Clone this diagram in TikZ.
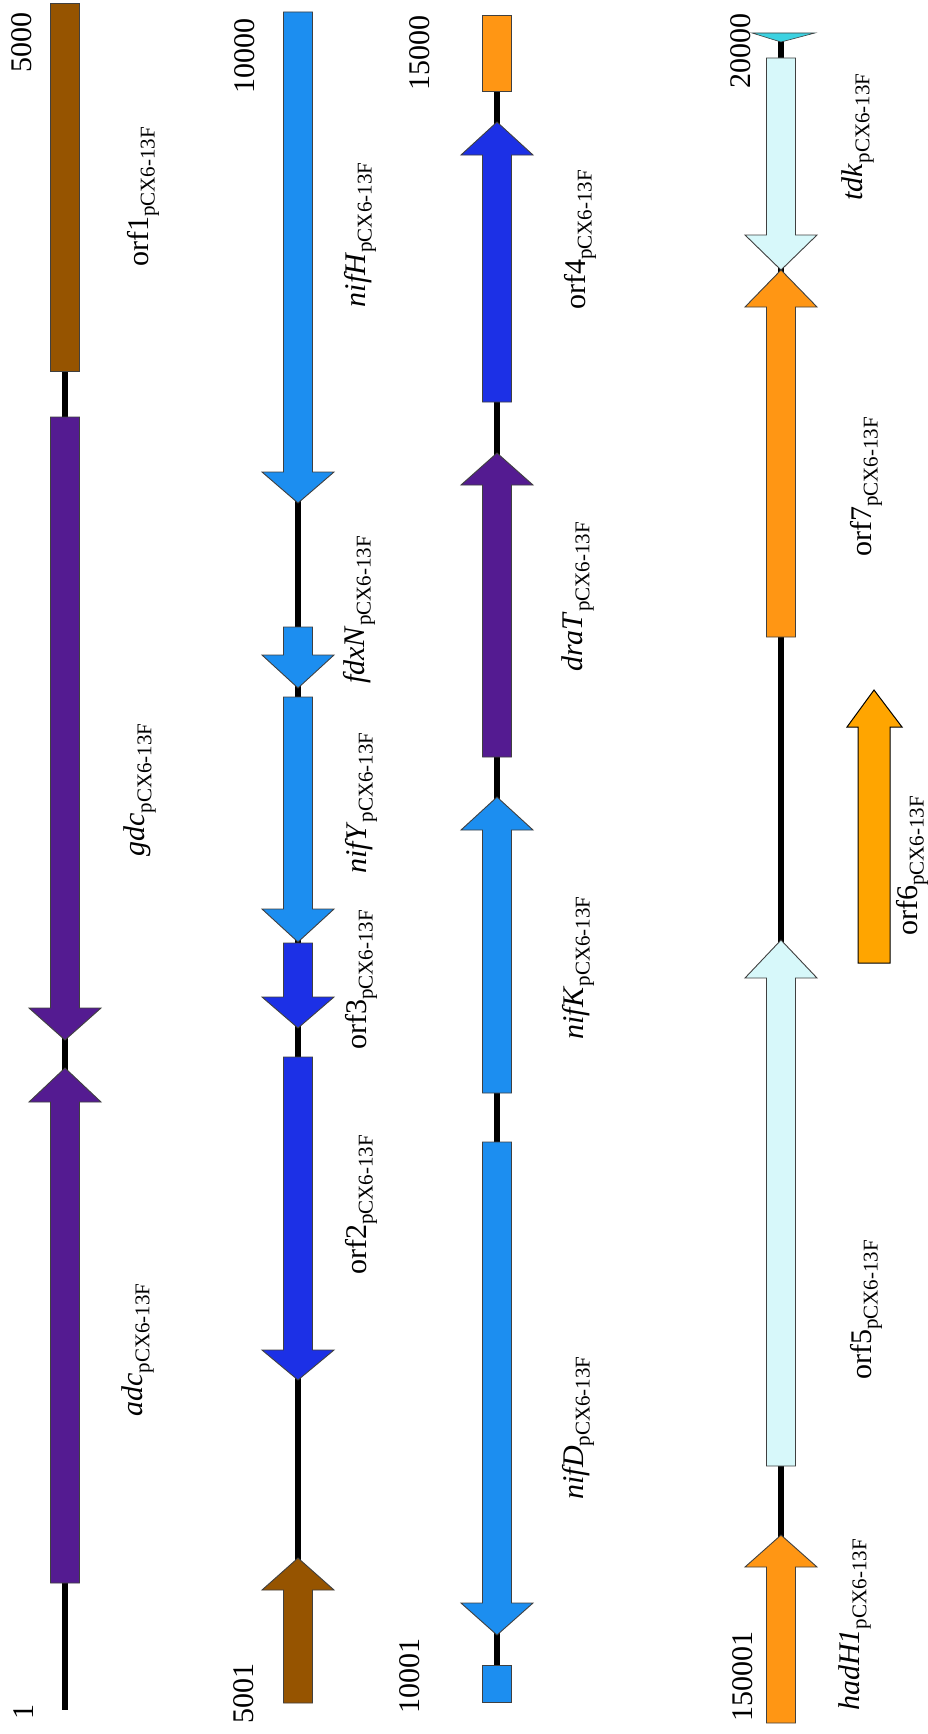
\documentclass[tikz,border=0pt]{standalone}
\usepackage{fontspec}
\setmainfont{Liberation Serif}
\definecolor{cbrown}{RGB}{150,84,0}
\definecolor{cpurple}{RGB}{84,27,145}
\definecolor{cnif}{RGB}{28,142,240}
\definecolor{cdark}{RGB}{28,48,230}
\definecolor{corange}{RGB}{255,150,20}
\definecolor{corfsix}{RGB}{255,165,0}
\definecolor{ccyan}{RGB}{215,248,250}
\definecolor{ctiny}{RGB}{60,210,225}
\newcommand\gsb[1]{\raisebox{-0.22em}{\fontsize{21}{21}\selectfont #1}}
\newcommand\glab[2]{#1\gsb{#2}}
% arrow: x, start, head base, tip, colour
\newcommand\garr[5]{\filldraw[gene,fill=#5] (#1-14.5,#2) -- (#1+14.5,#2) -- (#1+14.5,#3) -- (#1+36,#3) -- (#1,#4) -- (#1-36,#3) -- (#1-14.5,#3) -- cycle;}
\newcommand\grect[4]{\filldraw[gene,fill=#4] (#1-14.5,#2) rectangle (#1+14.5,#3);}
\begin{document}
\begin{tikzpicture}[x=1pt,y=-1pt,
  gene/.style={draw=black!75,line width=0.9pt,line join=miter},
  track/.style={line width=6pt,black},
  lab/.style={rotate=90,inner sep=0pt,font=\fontsize{30}{36}\selectfont},
  num/.style={rotate=90,inner sep=0pt,font=\fontsize{30}{36}\selectfont}]
\useasboundingbox (0,0) rectangle (927,1734);
% ---------- track 1 ----------
\coordinate (t1a) at (65,4);
\coordinate (t1b) at (65,1710);
\draw[track] (t1a) -- (t1b);
\grect{65}{3}{371}{cbrown}
\garr{65}{417}{1008}{1040}{cpurple}
\garr{65}{1583}{1102}{1068}{cpurple}
% ---------- track 2 ----------
\coordinate (t2a) at (298,12);
\coordinate (t2b) at (298,1703);
\draw[track] (t2a) -- (t2b);
\garr{298}{12}{472}{503}{cnif}
\garr{298}{627}{655}{688}{cnif}
\garr{298}{697}{909}{942}{cnif}
\garr{298}{943}{997}{1028}{cdark}
\garr{298}{1057}{1350}{1380}{cdark}
\garr{298}{1703}{1590}{1558}{cbrown}
% ---------- track 3 ----------
\coordinate (t3a) at (497,15);
\coordinate (t3b) at (497,1702);
\draw[track] (t3a) -- (t3b);
\grect{497}{15}{91}{corange}
\garr{497}{402}{155}{122}{cdark}
\garr{497}{757}{485}{453}{cpurple}
\garr{497}{1093}{830}{797}{cnif}
\garr{497}{1142}{1603}{1635}{cnif}
\grect{497}{1665}{1702}{cnif}
% ---------- track 4 ----------
\coordinate (t4a) at (781,36);
\coordinate (t4b) at (781,1723);
\draw[track] (t4a) -- (t4b);
\filldraw[gene,fill=ctiny,line width=0.6pt] (752,33) -- (815,33) -- (781,42) -- cycle;
\garr{781}{58}{235}{270}{ccyan}
\garr{781}{637}{307}{270}{corange}
\garr{781}{1466}{978}{940}{ccyan}
\garr{781}{1723}{1567}{1535}{corange}
% orf6 (free-standing)
\filldraw[draw=black,line width=1pt,fill=corfsix] (858,963) -- (890,963) -- (890,727) -- (902,727) -- (874,690) -- (847,727) -- (858,727) -- cycle;
% ---------- numbers ----------
\node[num] (n1) at (24,1712) {1};
\node[num] (n5000) at (22,43) {5000};
\node[num] (n5001) at (244,1693) {5001};
\node[num] (n10000) at (245,56) {10000};
\node[num] (n10001) at (410,1676) {10001};
\node[num] (n15000) at (420,53) {15000};
\node[num] (n20000) at (741,51) {20000};
\node[num] (n150001) at (743,1676) {150001};
% ---------- gene labels ----------
\node[lab] (l1) at (143,197) {\glab{orf1}{pCX6-13F}};
\node[lab] (l2) at (140,790) {\glab{\textit{gdc}}{pCX6-13F}};
\node[lab] (l3) at (138,1350) {\glab{\textit{adc}}{pCX6-13F}};
\node[lab] (l4) at (360,235) {\glab{\textit{nifH}}{pCX6-13F}};
\node[lab] (l5) at (359,610) {\glab{\textit{fdxN}}{pCX6-13F}};
\node[lab] (l6) at (361,803) {\glab{\textit{nifY}}{pCX6-13F}};
\node[lab] (l7) at (361,980) {\glab{orf3}{pCX6-13F}};
\node[lab] (l8) at (361,1205) {\glab{orf2}{pCX6-13F}};
\node[lab] (l9) at (580,240) {\glab{orf4}{pCX6-13F}};
\node[lab] (l10) at (578,597) {\glab{\textit{draT}}{pCX6-13F}};
\node[lab] (l11) at (578,968) {\glab{\textit{nifK}}{pCX6-13F}};
\node[lab] (l12) at (578,1428) {\glab{\textit{nifD}}{pCX6-13F}};
\node[lab] (l13) at (858,137) {\glab{\textit{tdk}}{pCX6-13F}};
\node[lab] (l14) at (866,487) {\glab{orf7}{pCX6-13F}};
\node[lab] (l15) at (912,866) {\glab{orf6}{pCX6-13F}};
\node[lab] (l16) at (866,1310) {\glab{orf5}{pCX6-13F}};
\node[lab] (l17) at (855,1625) {\glab{\textit{hadH1}}{pCX6-13F}};
\end{tikzpicture}
\end{document}
